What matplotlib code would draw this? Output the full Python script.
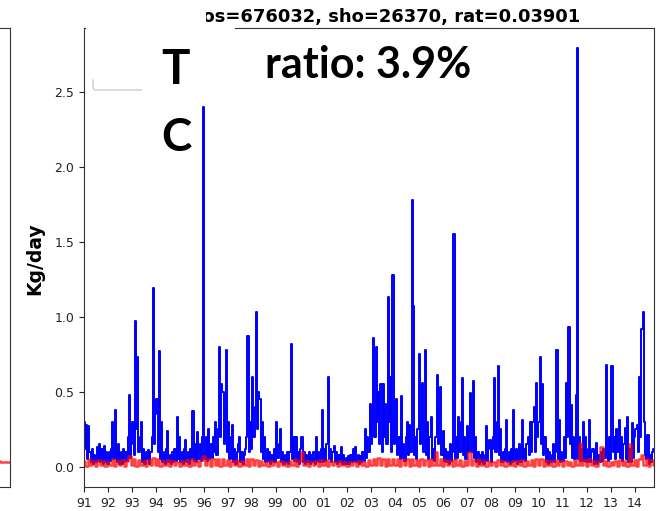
import numpy as np
import matplotlib.pyplot as plt
from matplotlib.patches import Rectangle
from matplotlib.lines import Line2D

# daily load (Kg/day), 20 samples per year from 1991
blue_kgday = [
    0.3, 0.12, 0.28, 0.05, 0.27, 0.1, 0.03, 0.12, 0.02, 0.08, 0.03, 0.13, 0.04, 0.15, 0.03, 0.12, 0.02, 0.14, 0.03, 0.1,
    0.02, 0.1, 0.04, 0.12, 0.3, 0.05, 0.38, 0.1, 0.03, 0.15, 0.02, 0.1, 0.02, 0.12, 0.03, 0.1, 0.04, 0.2, 0.48, 0.06,
    0.15, 0.3, 0.08, 0.97, 0.25, 0.73, 0.1, 0.2, 0.3, 0.03, 0.12, 0.02, 0.1, 0.05, 0.11, 0.02, 0.1, 0.2, 1.19, 0.15,
    0.35, 0.45, 0.1, 0.77, 0.05, 0.3, 0.03, 0.1, 0.02, 0.12, 0.24, 0.03, 0.08, 0.02, 0.1, 0.03, 0.12, 0.04, 0.33, 0.05,
    0.2, 0.03, 0.1, 0.02, 0.12, 0.18, 0.03, 0.1, 0.02, 0.12, 0.05, 0.37, 0.04, 0.15, 0.03, 0.23, 0.05, 0.15, 0.04, 0.2,
    2.4, 0.05, 0.2, 0.04, 0.25, 0.05, 0.15, 0.06, 0.2, 0.1, 0.3, 0.08, 0.25, 0.8, 0.2, 0.55, 0.5, 0.15, 0.35, 0.78,
    0.1, 0.3, 0.05, 0.2, 0.28, 0.03, 0.12, 0.02, 0.1, 0.15, 0.2, 0.03, 0.1, 0.02, 0.08, 0.12, 0.2, 0.87, 0.1, 0.3,
    0.12, 0.6, 0.2, 0.4, 1.03, 0.25, 0.5, 0.45, 0.1, 0.3, 0.05, 0.2, 0.03, 0.12, 0.04, 0.1, 0.02, 0.08, 0.03, 0.12,
    0.03, 0.3, 0.06, 0.15, 0.25, 0.03, 0.1, 0.02, 0.08, 0.03, 0.1, 0.02, 0.1, 0.82, 0.05, 0.2, 0.04, 0.2, 0.03, 0.1,
    0.02, 0.12, 0.2, 0.03, 0.1, 0.02, 0.08, 0.03, 0.1, 0.02, 0.08, 0.03, 0.1, 0.02, 0.2, 0.04, 0.1, 0.03, 0.12, 0.38,
    0.03, 0.12, 0.04, 0.15, 0.6, 0.05, 0.12, 0.03, 0.1, 0.14, 0.03, 0.1, 0.02, 0.08, 0.03, 0.13, 0.02, 0.08, 0.02, 0.06,
    0.02, 0.07, 0.02, 0.08, 0.03, 0.12, 0.04, 0.13, 0.03, 0.08, 0.02, 0.07, 0.03, 0.1, 0.04, 0.25, 0.06, 0.2, 0.1, 0.42,
    0.15, 0.3, 0.86, 0.2, 0.8, 0.3, 0.5, 0.15, 0.55, 0.1, 0.55, 0.2, 0.42, 0.15, 1.13, 0.3, 0.6, 0.1, 1.28, 0.15,
    0.35, 0.45, 0.08, 0.2, 0.05, 0.47, 0.06, 0.15, 0.04, 0.2, 0.3, 0.08, 0.28, 0.1, 1.78, 1.07, 0.08, 0.2, 0.05, 0.25,
    0.75, 0.15, 0.3, 0.56, 0.1, 0.78, 0.08, 0.3, 0.05, 0.2, 0.33, 0.05, 0.12, 0.04, 0.2, 0.61, 0.15, 0.35, 0.53, 0.08,
    0.24, 0.04, 0.12, 0.03, 0.1, 0.02, 0.15, 0.04, 0.1, 1.55, 0.05, 0.2, 0.06, 0.33, 0.1, 0.3, 0.59, 0.08, 0.2, 0.05,
    0.27, 0.1, 0.2, 0.49, 0.1, 0.57, 0.06, 0.2, 0.03, 0.1, 0.02, 0.08, 0.03, 0.1, 0.02, 0.08, 0.27, 0.04, 0.12, 0.18,
    0.03, 0.12, 0.2, 0.59, 0.1, 0.3, 0.67, 0.08, 0.25, 0.03, 0.1, 0.04, 0.12, 0.31, 0.03, 0.1, 0.02, 0.12, 0.03, 0.38,
    0.04, 0.12, 0.02, 0.1, 0.15, 0.03, 0.31, 0.05, 0.12, 0.04, 0.15, 0.2, 0.08, 0.3, 0.1, 0.3, 0.4, 0.1, 0.56, 0.2,
    0.3, 0.73, 0.15, 0.55, 0.08, 0.2, 0.03, 0.12, 0.02, 0.1, 0.03, 0.08, 0.15, 0.03, 0.1, 0.78, 0.05, 0.31, 0.03, 0.1,
    0.04, 0.2, 0.06, 0.56, 0.2, 0.93, 0.15, 0.41, 0.06, 0.2, 0.05, 0.48, 2.79, 0.05, 0.2, 0.04, 0.12, 0.3, 0.04, 0.2,
    0.03, 0.12, 0.31, 0.03, 0.1, 0.12, 0.02, 0.1, 0.16, 0.02, 0.08, 0.03, 0.1, 0.04, 0.12, 0.06, 0.68, 0.1, 0.04, 0.2,
    0.05, 0.67, 0.1, 0.2, 0.05, 0.25, 0.1, 0.31, 0.06, 0.2, 0.04, 0.15, 0.26, 0.05, 0.33, 0.03, 0.12, 0.03, 0.29, 0.06,
    0.2, 0.25, 0.28, 0.1, 0.6, 0.2, 0.92, 1.03, 0.3, 0.08, 0.05, 0.21, 0.02, 0.08, 0.03, 0.1, 0.12,
]

# second series (red), 10 samples per year from 1991
red_kgday = [
    0.04, 0.005, 0.05, 0.01, 0.04, 0.005, 0.045, 0.01, 0.04, 0.005,
    0.035, 0.01, 0.05, 0.005, 0.04, 0.01, 0.045, 0.005, 0.04, 0.07,
    0.01, 0.05, 0.005, 0.045, 0.01, 0.04, 0.005, 0.045, 0.01, 0.06,
    0.01, 0.05, 0.005, 0.04, 0.01, 0.045, 0.005, 0.04, 0.01, 0.035,
    0.005, 0.04, 0.01, 0.045, 0.005, 0.05, 0.01, 0.04, 0.005, 0.045,
    0.07, 0.01, 0.05, 0.005, 0.055, 0.01, 0.05, 0.005, 0.05, 0.01,
    0.045, 0.005, 0.04, 0.01, 0.045, 0.005, 0.04, 0.01, 0.05, 0.005,
    0.05, 0.01, 0.045, 0.005, 0.04, 0.01, 0.035, 0.005, 0.04, 0.01,
    0.035, 0.005, 0.04, 0.01, 0.035, 0.005, 0.04, 0.01, 0.05, 0.005,
    0.04, 0.1, 0.01, 0.04, 0.005, 0.035, 0.01, 0.04, 0.005, 0.045,
    0.01, 0.045, 0.005, 0.04, 0.01, 0.035, 0.005, 0.04, 0.01, 0.035,
    0.005, 0.035, 0.01, 0.03, 0.005, 0.04, 0.01, 0.035, 0.005, 0.045,
    0.01, 0.05, 0.01, 0.06, 0.01, 0.05, 0.005, 0.055, 0.01, 0.05,
    0.01, 0.05, 0.005, 0.045, 0.01, 0.05, 0.005, 0.05, 0.01, 0.045,
    0.005, 0.05, 0.01, 0.045, 0.005, 0.05, 0.01, 0.1, 0.01, 0.05,
    0.005, 0.045, 0.01, 0.04, 0.005, 0.05, 0.01, 0.045, 0.005, 0.04,
    0.01, 0.1, 0.01, 0.045, 0.005, 0.05, 0.01, 0.04, 0.005, 0.04,
    0.01, 0.035, 0.005, 0.045, 0.01, 0.04, 0.005, 0.035, 0.01, 0.04,
    0.005, 0.04, 0.01, 0.045, 0.005, 0.04, 0.01, 0.045, 0.005, 0.05,
    0.01, 0.05, 0.005, 0.045, 0.01, 0.04, 0.005, 0.045, 0.01, 0.04,
    0.005, 0.04, 0.01, 0.035, 0.005, 0.045, 0.01, 0.16, 0.01, 0.045,
    0.005, 0.05, 0.01, 0.04, 0.005, 0.04, 0.13, 0.01, 0.04, 0.005,
    0.035, 0.01, 0.04, 0.005, 0.045, 0.01, 0.04, 0.005, 0.15, 0.01,
    0.045, 0.005, 0.05, 0.08, 0.01, 0.05, 0.005, 0.045, 0.01,
]

# end of the neighbouring panel, only its last stretch is visible
left_red = [0.03, 0.04, 0.02, 0.04, 0.03, 0.04, 0.03]

year_labels = ['91', '92', '93', '94', '95', '96', '97', '98', '99', '00', '01', '02',
               '03', '04', '05', '06', '07', '08', '09', '10', '11', '12', '13', '14']
y_ticks = [0.0, 0.5, 1.0, 1.5, 2.0, 2.5]

title_txt = 'n_pos=676032, sho=26370, rat=0.03901'

W, H = 660, 511


def fx(px):
    return px / W


def fy(py):
    return 1 - py / H


t_blue = 1991 + np.arange(len(blue_kgday)) / 20.0
t_red = 1991 + np.arange(len(red_kgday)) / 10.0

fig = plt.figure(figsize=(6.6, 5.11), dpi=100)

# neighbouring panel (cut off at left edge)
axl = fig.add_axes([fx(-110), fy(487), fx(119.5), fy(28) - fy(487)])
axl.plot(np.linspace(0, 1, len(left_red)), left_red, color='red', alpha=0.75,
         lw=1.8, drawstyle='steps-mid')
axl.set_xlim(0, 1)
axl.set_ylim(-0.135, 2.925)
axl.set_xticks([])
axl.set_yticks([])
for s in axl.spines.values():
    s.set_color('#333333')

ax = fig.add_axes([fx(84), fy(487), fx(654) - fx(84), fy(28) - fy(487)])
ax.plot(t_blue, blue_kgday, color='blue', lw=1.4, drawstyle='steps-mid')
ax.plot(t_red, red_kgday, color='red', alpha=0.75, lw=1.8, drawstyle='steps-mid')
ax.set_xlim(1991, 2014.8)
ax.set_ylim(-0.135, 2.925)
ax.set_xticks(range(1991, 2015))
ax.set_xticklabels(year_labels)
ax.set_yticks(y_ticks)
ax.set_yticklabels(['%.1f' % v for v in y_ticks])
ax.tick_params(labelsize=9, colors='#222222', length=3.5)
for s in ax.spines.values():
    s.set_color('#333333')

# title, its left end is hidden under the pasted box
fig.text(fx(580), fy(22), title_txt, ha='right', va='baseline',
         fontsize=12.9, fontweight='bold')

fig.text(fx(35), fy(259), 'Kg/day', rotation=90, ha='center', va='center',
         fontsize=13.5, fontweight='bold')

# bit of a legend frame showing under the pasted text box
fig.add_artist(Line2D([fx(93), fx(93), fx(95), fx(142)], [fy(80), fy(88), fy(90), fy(90)],
                      color='#cccccc', lw=1, transform=fig.transFigure))

# white text box pasted over the chart
for x0, y0, x1, y1 in [(60, 0, 206, 24), (86, 24, 235, 79), (142, 79, 235, 100)]:
    fig.add_artist(Rectangle((fx(x0), fy(y1)), fx(x1) - fx(x0), fy(y0) - fy(y1),
                             transform=fig.transFigure, facecolor='white',
                             edgecolor='none', zorder=5))

big = dict(family='Lato', fontweight='bold', color='black', zorder=6)
fig.text(fx(175), fy(84), 'T', ha='center', va='baseline', fontsize=34, **big)
fig.text(fx(176), fy(151), 'C', ha='center', va='baseline', fontsize=33, **big)
fig.text(fx(265), fy(78), 'ratio: 3.9%', ha='left', va='baseline', fontsize=31, **big)

fig.savefig('out.png', dpi=100)
